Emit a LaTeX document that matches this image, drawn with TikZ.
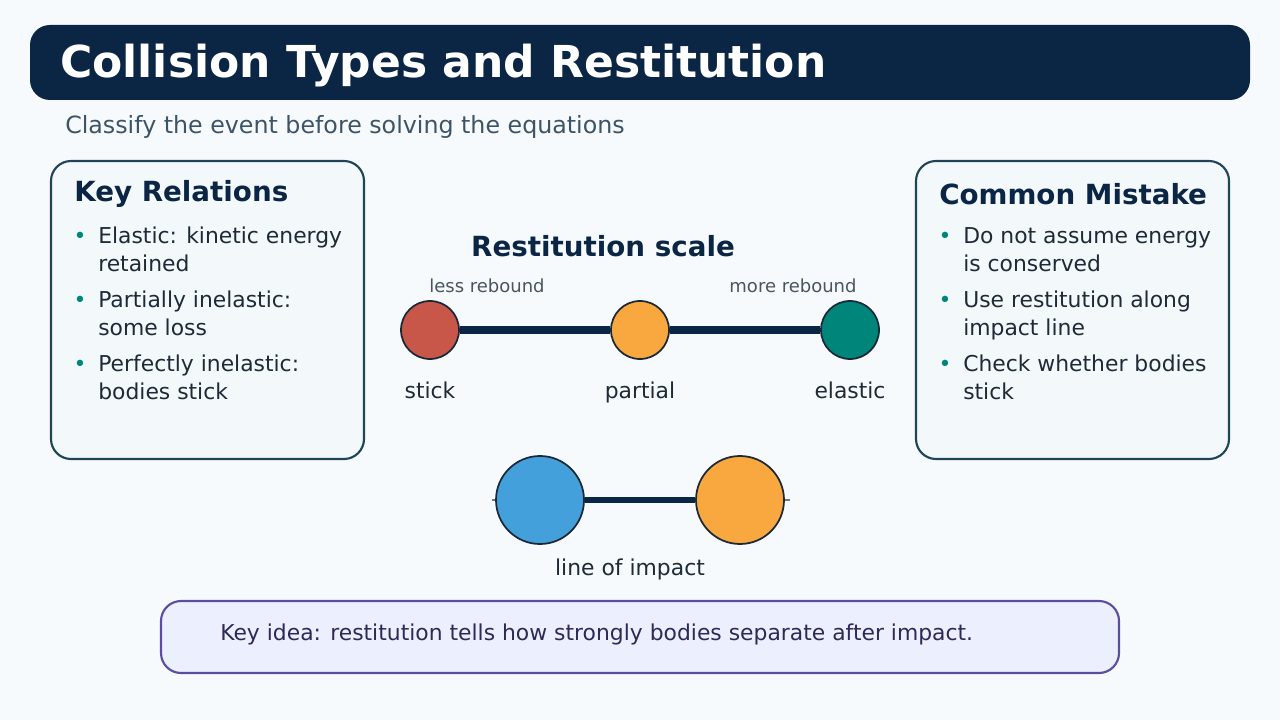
\documentclass[tikz,border=0pt]{standalone}
\usepackage{fontspec}
\setmainfont{DejaVu Sans}
\definecolor{c0B2545}{HTML}{0B2545}
\definecolor{c1F4E5F}{HTML}{1F4556}
\definecolor{cF3F8FB}{HTML}{F3F8FB}
\definecolor{c1E2A36}{HTML}{1E2A36}
\definecolor{c00857A}{HTML}{00857A}
\definecolor{c4A5561}{HTML}{4A5561}
\definecolor{c1B2838}{HTML}{1B2838}
\definecolor{bg}{HTML}{F7FAFC}
\definecolor{red1}{HTML}{C8574A}
\definecolor{ora}{HTML}{F9A83F}
\definecolor{blu}{HTML}{44A0DB}
\definecolor{navy}{HTML}{0B2545}
\definecolor{c5B4EA0}{HTML}{5B4EA0}
\definecolor{cECEFFE}{HTML}{ECEFFE}
\definecolor{c2B2B55}{HTML}{2B2B55}
\definecolor{csub}{HTML}{3D5468}
\begin{document}
\begin{tikzpicture}[x=0.75pt,y=-0.75pt,
  panel/.style={draw=c1F4E5F,fill=cF3F8FB,line width=1.6pt,rounded corners=15pt},
  ptitle/.style={anchor=west,text=c0B2545,font=\fontsize{20.8}{24}\selectfont\bfseries},
  btext/.style={anchor=north west,text=c1E2A36,font=\fontsize{16.4}{21}\selectfont,align=left,inner sep=0pt},
  bul/.style={text=c00857A,font=\fontsize{16.4}{21}\selectfont,inner sep=0pt},
  small/.style={text=c4A5561,font=\fontsize{13.5}{15}\selectfont},
  lbl/.style={anchor=base,text=c1E2A36,font=\fontsize{16.4}{19}\selectfont},
  dot/.style={circle,draw=c1B2838,line width=1.3pt,inner sep=0pt}]
\fill[bg] (0,0) rectangle (1280,720);
\useasboundingbox (0,0) rectangle (1280,720);
\fill[navy,rounded corners=15pt] (30,25) rectangle (1250,100);
\node[anchor=west,text=white,font=\fontsize{33}{38}\selectfont\bfseries,inner sep=0pt] (title) at (60,66) {Collision Types and Restitution};
\node[anchor=west,text=csub,font=\fontsize{17.8}{20}\selectfont,inner sep=0pt] (sub) at (65,127) {Classify the event before solving the equations};
% left panel
\draw[panel] (51,161) rectangle (364,459);
\node[ptitle,inner sep=0pt] (lt) at (74,194) {Key Relations};
\foreach \y/\t [count=\i] in {227/{Elastic: kinetic energy\\retained},291/{Partially inelastic:\\some loss},355/{Perfectly inelastic:\\bodies stick}}{
  \node[bul] (lb\i) at (80,\y+11) {•};
  \node[btext] (lx\i) at (98,\y) {\t};}
% right panel
\draw[panel] (916,161) rectangle (1229,459);
\node[ptitle,inner sep=0pt] (rt) at (939,194) {Common Mistake};
\foreach \y/\t [count=\i] in {227/{Do not assume energy\\is conserved},291/{Use restitution along\\impact line},355/{Check whether bodies\\stick}}{
  \node[bul] (rb\i) at (945,\y+11) {•};
  \node[btext] (rx\i) at (963,\y) {\t};}
% scale
\node[text=c0B2545,font=\fontsize{20.8}{24}\selectfont\bfseries] (st) at (603,246) {Restitution scale};
\node[small] (lr) at (487,286) {less rebound};
\node[small] (mr) at (793,286) {more rebound};
\node[dot,fill=red1,minimum size=58pt*0.75] (s1) at (430,330) {};
\node[dot,fill=ora,minimum size=58pt*0.75] (s2) at (640,330) {};
\node[dot,fill=c00857A,minimum size=58pt*0.75] (s3) at (850,330) {};
\draw[navy,line width=6pt] (s1) -- (s2);
\draw[navy,line width=6pt] (s2) -- (s3);
\node[lbl] (l1) at (430,398) {stick};
\node[lbl] (l2) at (640,398) {partial};
\node[lbl] (l3) at (850,398) {elastic};
% impact
\coordinate (ia) at (492,500);
\coordinate (ib) at (790,500);
\draw[c4A5561!80,line width=2.2pt] (ia) -- (ib);
\node[dot,fill=blu,minimum size=88pt*0.75] (b1) at (540,500) {};
\node[dot,fill=ora,minimum size=88pt*0.75] (b2) at (740,500) {};
\draw[navy,line width=4pt] (b1) -- (b2);
\node[lbl] (li) at (630,575) {line of impact};
% key idea
\draw[draw=c5B4EA0,fill=cECEFFE,line width=1.6pt,rounded corners=15pt] (161,601) rectangle (1119,673);
\node[anchor=west,text=c2B2B55,font=\fontsize{16.4}{19}\selectfont,inner sep=0pt] (ki) at (220,634) {Key idea: restitution tells how strongly bodies separate after impact.};
\end{tikzpicture}
\end{document}
